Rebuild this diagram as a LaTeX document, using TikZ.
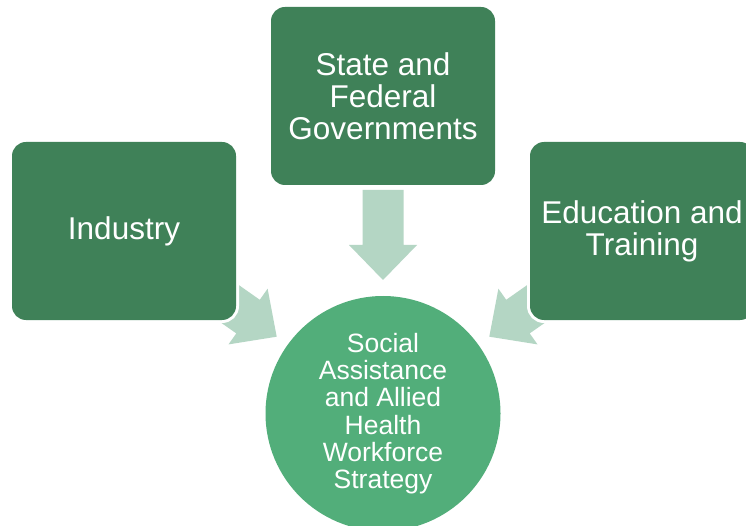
\documentclass[tikz,border=0pt]{standalone}
\usepackage{fontspec}
\setmainfont{Liberation Sans}
\definecolor{boxgreen}{RGB}{63,129,88}
\definecolor{circgreen}{RGB}{82,174,122}
\definecolor{arrowgreen}{RGB}{180,214,196}
\tikzset{
  srcbox/.style={rectangle, rounded corners=14pt, fill=boxgreen,
    preaction={draw=white, line width=6pt},
    minimum width=224pt, minimum height=178pt, inner sep=0pt,
    text=white, align=center, font=\fontsize{31.5}{32}\selectfont},
  goal/.style={circle, fill=circgreen, minimum size=235pt, inner sep=0pt,
    text=white, align=center, font=\fontsize{26.5}{27.3}\selectfont},
  blockarrow/.style={fill=arrowgreen, draw=none}
}
\begin{document}
\begin{tikzpicture}[x=1pt,y=-1pt]
\useasboundingbox (0,0) rectangle (746,526);
\clip (0,0) rectangle (746,526);
\fill[white] (0,0) rectangle (746,526);
% block arrows
\fill[blockarrow] (362.5,190) -- (403.5,190) -- (403.5,245) -- (417,245) -- (383,280) -- (349,245) -- (362.5,245) -- cycle;
\fill[blockarrow] (191.2,301.8) -- (236.3,333.4) -- (228.5,344.4) -- (276.7,336.7) -- (267.6,288.7) -- (259.8,299.8) -- (214.8,268.2) -- cycle;
\fill[blockarrow] (574.8,301.8) -- (529.7,333.4) -- (537.5,344.4) -- (489.3,336.7) -- (498.4,288.7) -- (506.2,299.8) -- (551.2,268.2) -- cycle;
% boxes
\node[srcbox] (ind) at (124,231) {Industry};
\node[srcbox] (gov) at (383,96) {State and\\Federal\\Governments};
\node[srcbox] (edu) at (642,231) {Education and\\Training};
% centre
\node[goal] (strat) at (383,413.5) {Social\\Assistance\\and Allied\\Health\\Workforce\\Strategy};
\end{tikzpicture}
\end{document}
